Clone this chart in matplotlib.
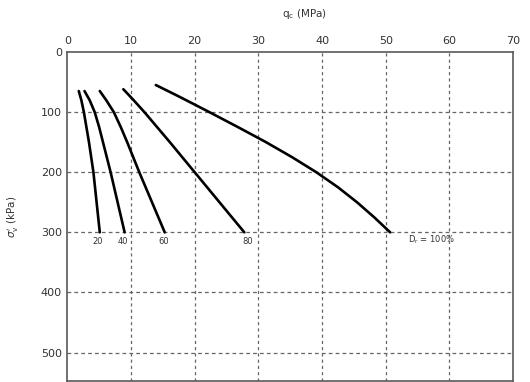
import matplotlib
matplotlib.use('Agg')
import matplotlib.pyplot as plt

# q_c (MPa) against vertical effective stress (kPa), one curve per relative density

dr_labels = ['20', '40', '60', '80', 'D$_\\mathrm{r}$ = 100%']

sigma_20 = [65, 80, 100, 125, 150, 200, 250, 300]
qc_20 = [1.8, 2.2, 2.6, 3.0, 3.4, 4.1, 4.6, 5.1]

sigma_40 = [65, 80, 100, 125, 150, 200, 250, 300]
qc_40 = [2.7, 3.5, 4.3, 5.0, 5.6, 6.8, 7.9, 9.0]

sigma_60 = [65, 80, 100, 125, 150, 200, 250, 300]
qc_60 = [5.1, 6.1, 7.3, 8.4, 9.4, 11.3, 13.3, 15.3]

sigma_80 = [62, 80, 100, 125, 150, 200, 250, 300]
qc_80 = [8.8, 10.4, 12.1, 14.1, 16.1, 20.0, 23.9, 27.8]

sigma_100 = [55, 75, 100, 125, 150, 175, 200, 225, 250, 275, 300]
qc_100 = [13.9, 17.7, 22.3, 26.8, 31.2, 35.3, 39.1, 42.5, 45.5, 48.2, 50.7]

# where the labels sit (q_c, sigma)
label_qc = [4.7, 8.8, 15.1, 28.3, 53.5]
label_sigma = [316, 316, 316, 316, 312]

x_ticks = [0, 10, 20, 30, 40, 50, 60, 70]
y_ticks = [0, 100, 200, 300, 400, 500]

curves = [(qc_20, sigma_20), (qc_40, sigma_40), (qc_60, sigma_60),
          (qc_80, sigma_80), (qc_100, sigma_100)]

# Make the figure

fig = plt.figure(figsize=(5.3, 3.82), dpi=100)
ax = fig.add_axes([0.127, 0.003, 0.841, 0.861])

txt = '#333333'

for qc, sig in curves:
    ax.plot(qc, sig, color='k', lw=1.9, solid_capstyle='round',
            solid_joinstyle='round')

for i, lab in enumerate(dr_labels):
    ha = 'left' if i == len(dr_labels) - 1 else 'center'
    ax.text(label_qc[i], label_sigma[i], lab, fontsize=6, color=txt,
            ha=ha, va='center')

ax.set_xlim(0, 70)
ax.set_ylim(547, 0)

ax.xaxis.tick_top()
ax.xaxis.set_label_position('top')
ax.set_xticks(x_ticks)
ax.set_yticks(y_ticks)
ax.tick_params(length=0, labelsize=8, labelcolor=txt, pad=4)

ax.set_xlabel(r'q$_\mathrm{c}$ (MPa)', fontsize=7.5, color=txt)
ax.xaxis.set_label_coords(0.533, 1.105)
ax.set_ylabel(r"$\sigma_\mathrm{v}'$ (kPa)", fontsize=7.5, color=txt)
ax.yaxis.set_label_coords(-0.105, 0.5)

# dashed grid, skipping the lines on the frame
for x in x_ticks[1:-1]:
    ax.axvline(x, color='0.4', lw=0.9, ls=(0, (2.5, 2.5)), zorder=0)
for y in y_ticks[1:]:
    ax.axhline(y, color='0.4', lw=0.9, ls=(0, (3, 2.5)), zorder=0)

for s in ax.spines.values():
    s.set_color('0.35')
    s.set_linewidth(1.2)

fig.savefig('out.png', dpi=100)
